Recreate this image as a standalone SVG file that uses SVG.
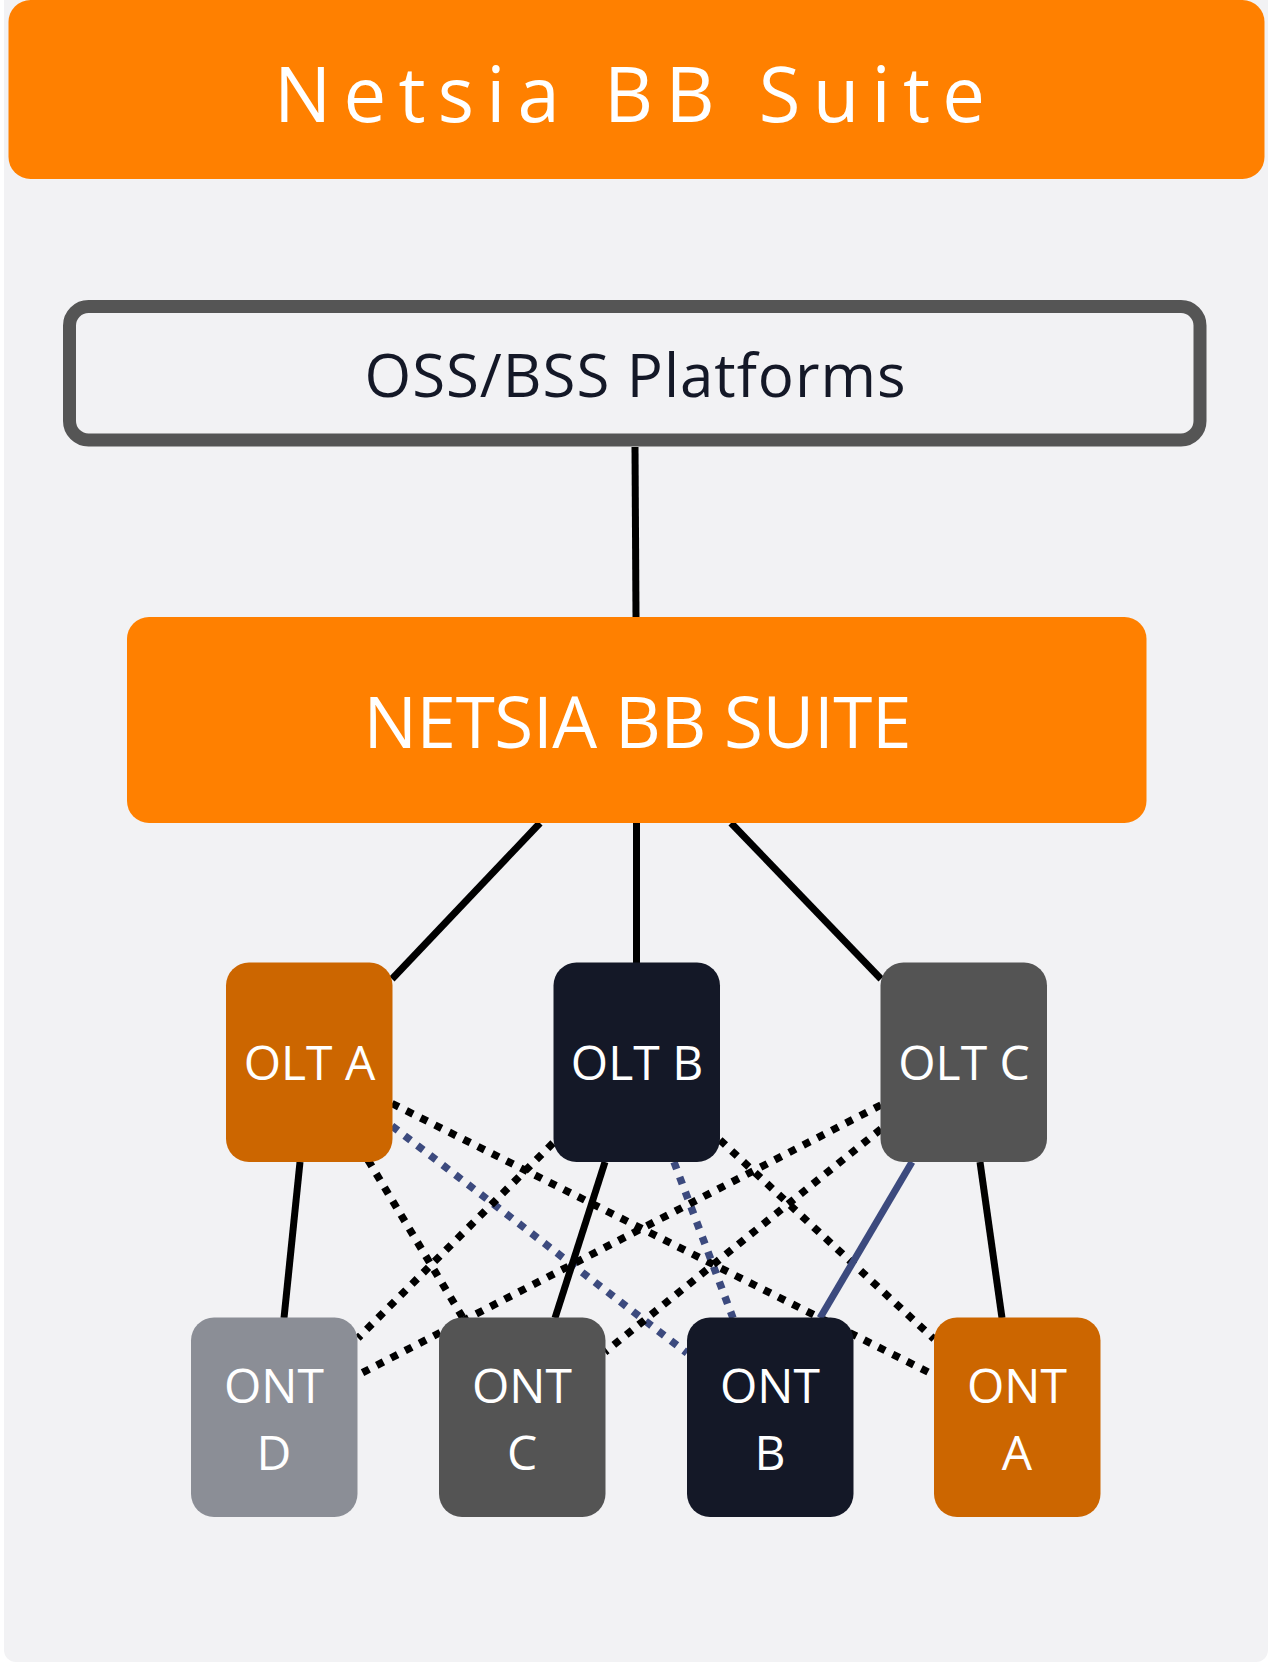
<svg xmlns="http://www.w3.org/2000/svg" width="1269" height="1665" viewBox="0 0 1269 1665">
  <style>
    .lbl { font-family: "Open Sans", "Liberation Sans", sans-serif; fill: #FFFFFF; }
    .node-text { font-size: 48px; text-anchor: middle; }
    .solid { stroke: #000000; stroke-width: 7; fill: none; }
    .dot { stroke: #000000; stroke-width: 7.5; stroke-dasharray: 7.5 8.5; fill: none; }
    .solid.blue, .dot.blue { stroke: #3C4A7E; }
  </style>
  <rect x="0" y="0" width="1269" height="1665" fill="#FFFFFF"/>
  <rect id="panel" x="4" y="-20" width="1264" height="1682" rx="12" fill="#F2F2F4"/>

  <g id="header">
    <rect x="8.5" y="0" width="1256" height="179" rx="22" fill="#FF8000"/>
    <text class="lbl" x="274" y="122" font-size="76" textLength="711" lengthAdjust="spacing">Netsia BB Suite</text>
  </g>

  <g id="connectors">
    <path class="solid" d="M635 447 L636 617"/>
    <path class="solid" d="M540 823 L392 979"/>
    <path class="solid" d="M636.5 823 L636.5 963"/>
    <path class="solid" d="M731 823 L881 979"/>

    <path class="dot" d="M392 1103.5 L934 1375"/>
    <path class="dot blue" d="M392 1126 L687 1353"/>
    <path class="dot" d="M368 1160 L463 1318"/>
    <path class="dot" d="M553 1143 L358 1338"/>
    <path class="dot blue" d="M674 1162 L733 1318"/>
    <path class="dot" d="M720 1140 L934 1339"/>
    <path class="dot" d="M881 1105 L358 1375"/>
    <path class="dot" d="M881 1129 L605 1352"/>

    <path class="solid" d="M300 1162 L284 1318"/>
    <path class="solid" d="M605 1162 L555 1318"/>
    <path class="solid" d="M980 1162 L1002 1318"/>
    <path class="solid blue" d="M912 1162 L820 1318"/>
  </g>

  <g id="oss">
    <rect x="69.5" y="306.5" width="1130.5" height="133.5" rx="19" fill="#F2F2F4" stroke="#555555" stroke-width="13"/>
    <text x="364.5" y="397" font-family="'Open Sans', 'Liberation Sans', sans-serif" font-size="60" fill="#141827" textLength="541" lengthAdjust="spacing">OSS/BSS Platforms</text>
  </g>

  <g id="netsia">
    <rect x="127" y="617" width="1019.5" height="206" rx="22" fill="#FF8000"/>
    <text class="lbl" x="363.5" y="748" font-size="71" textLength="548" lengthAdjust="spacing">NETSIA BB SUITE</text>
  </g>

  <g id="olt-a">
    <rect x="226" y="962.5" width="166.5" height="199.5" rx="23" fill="#CC6600"/>
    <text class="lbl node-text" x="309.5" y="1080">OLT A</text>
  </g>
  <g id="olt-b">
    <rect x="553.5" y="962.5" width="166.5" height="199.5" rx="23" fill="#141827"/>
    <text class="lbl node-text" x="637" y="1080">OLT B</text>
  </g>
  <g id="olt-c">
    <rect x="880.5" y="962.5" width="166.5" height="199.5" rx="23" fill="#545454"/>
    <text class="lbl node-text" x="964" y="1080">OLT C</text>
  </g>

  <g id="ont-d">
    <rect x="191" y="1317.5" width="166.5" height="199.5" rx="23" fill="#8B8E96"/>
    <text class="lbl node-text" x="274" y="1403">ONT</text>
    <text class="lbl node-text" x="274" y="1470">D</text>
  </g>
  <g id="ont-c">
    <rect x="439" y="1317.5" width="166.5" height="199.5" rx="23" fill="#545454"/>
    <text class="lbl node-text" x="522" y="1403">ONT</text>
    <text class="lbl node-text" x="522" y="1470">C</text>
  </g>
  <g id="ont-b">
    <rect x="687" y="1317.5" width="166.5" height="199.5" rx="23" fill="#141827"/>
    <text class="lbl node-text" x="770" y="1403">ONT</text>
    <text class="lbl node-text" x="770" y="1470">B</text>
  </g>
  <g id="ont-a">
    <rect x="934" y="1317.5" width="166.5" height="199.5" rx="23" fill="#CC6600"/>
    <text class="lbl node-text" x="1017" y="1403">ONT</text>
    <text class="lbl node-text" x="1017" y="1470">A</text>
  </g>
</svg>
